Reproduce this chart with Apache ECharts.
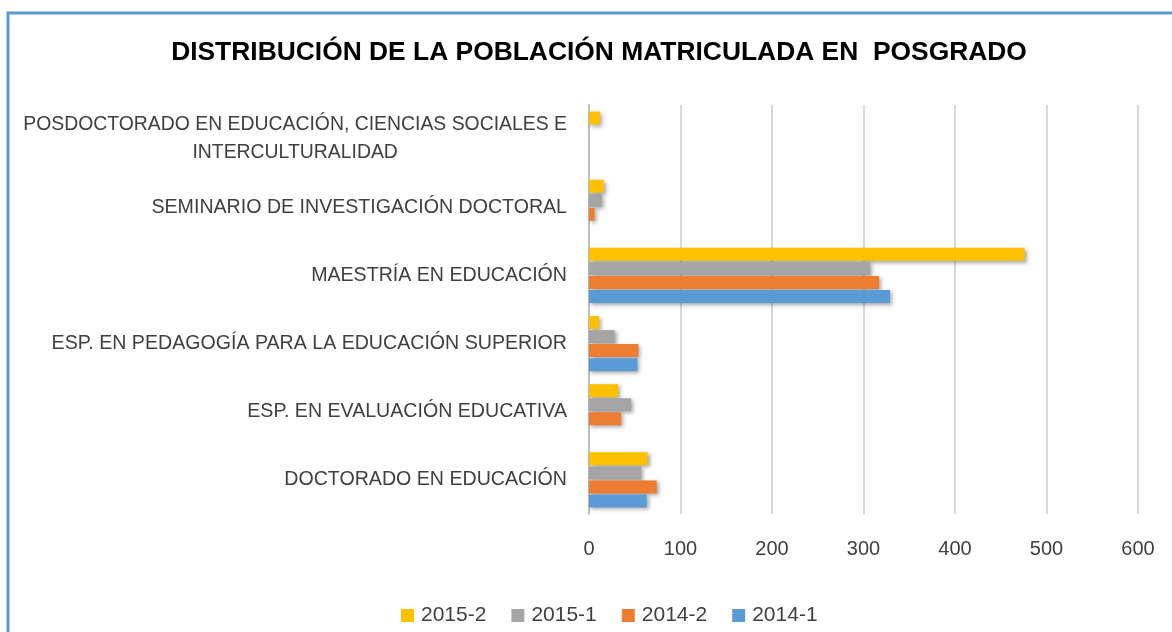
<!DOCTYPE html>
<html>
<head>
<meta charset="utf-8">
<script src="https://cdn.jsdelivr.net/npm/echarts@6/dist/echarts.min.js"></script>
<style>
	html, body { margin: 0; padding: 0; background: #fff; }
	#chart { width: 1172px; height: 632px; }
</style>
</head>
<body>
<div id="chart"></div>
<script>
var categories = [
	'DOCTORADO EN EDUCACIÓN',
	'ESP. EN EVALUACIÓN EDUCATIVA',
	'ESP. EN PEDAGOGÍA PARA LA EDUCACIÓN SUPERIOR',
	'MAESTRÍA EN EDUCACIÓN',
	'SEMINARIO DE INVESTIGACIÓN DOCTORAL',
	'POSDOCTORADO EN EDUCACIÓN, CIENCIAS SOCIALES E\nINTERCULTURALIDAD'
];
var data20141 = [63, 0, 53, 329, 0, 0];
var data20142 = [74, 35, 54, 317, 6, 0];
var data20151 = [57, 46, 28, 307, 14, 0];
var data20152 = [64, 32, 11, 476, 16, 12];
var legendOrder = ['2015-2', '2015-1', '2014-2', '2014-1'];

var chart = echarts.init(document.getElementById('chart'));

var font = 'Liberation Sans';

function barSeries(name, color, values) {
	return {
		name: name,
		type: 'bar',
		data: values,
		barWidth: 13,
		barGap: '8%',
		itemStyle: {
			color: color,
			shadowBlur: 4,
			shadowOffsetX: 2,
			shadowOffsetY: 2,
			shadowColor: 'rgba(0,0,0,0.35)'
		}
	};
}

var option = {
	animation: false,
	textStyle: { fontFamily: font },
	title: {
		text: 'DISTRIBUCIÓN DE LA POBLACIÓN MATRICULADA EN  POSGRADO',
		left: 594,
		textAlign: 'center',
		top: 35,
		textStyle: {
			fontFamily: font,
			fontSize: 26.4,
			fontWeight: 'bold',
			color: '#000'
		}
	},
	legend: {
		data: legendOrder,
		bottom: 1,
		left: 396,
		itemWidth: 13,
		itemHeight: 13,
		itemGap: 25,
		icon: 'rect',
		textStyle: { fontFamily: font, fontSize: 21, color: '#404040', padding: [0, 0, 0, 2] }
	},
	grid: {
		left: 589,
		right: 34,
		top: 105,
		bottom: 118
	},
	xAxis: {
		type: 'value',
		min: 0,
		max: 600,
		interval: 100,
		axisLine: { show: false },
		axisTick: { show: false },
		axisLabel: { fontFamily: font, fontSize: 20, color: '#404040', margin: 25 },
		splitLine: { lineStyle: { color: '#D9D9D9', width: 2 } }
	},
	yAxis: {
		type: 'category',
		data: categories,
		axisLine: { show: true, lineStyle: { color: '#BFBFBF', width: 2 } },
		axisTick: { show: false },
		axisLabel: {
			fontFamily: font,
			fontSize: 19.6,
			color: '#404040',
			margin: 22,
			lineHeight: 28,
			formatter: function(value) {
				if (value.indexOf('\n') < 0) return value;
				return value.split('\n').map(function(s) { return '{c|' + s + '}'; }).join('\n');
			},
			rich: {
				c: { align: 'center', fontFamily: font, fontSize: 19.4, color: '#404040', lineHeight: 28 }
			}
		}
	},
	graphic: [{
		type: 'rect',
		shape: { x: 8, y: 13, width: 1200, height: 700 },
		style: { fill: 'none', stroke: '#5B9BD5', lineWidth: 3 },
		silent: true
	}],
	series: [
		barSeries('2015-2', '#FFC000', data20152),
		barSeries('2015-1', '#A5A5A5', data20151),
		barSeries('2014-2', '#ED7D31', data20142),
		barSeries('2014-1', '#5B9BD5', data20141)
	]
};

chart.setOption(option);
</script>
</body>
</html>
